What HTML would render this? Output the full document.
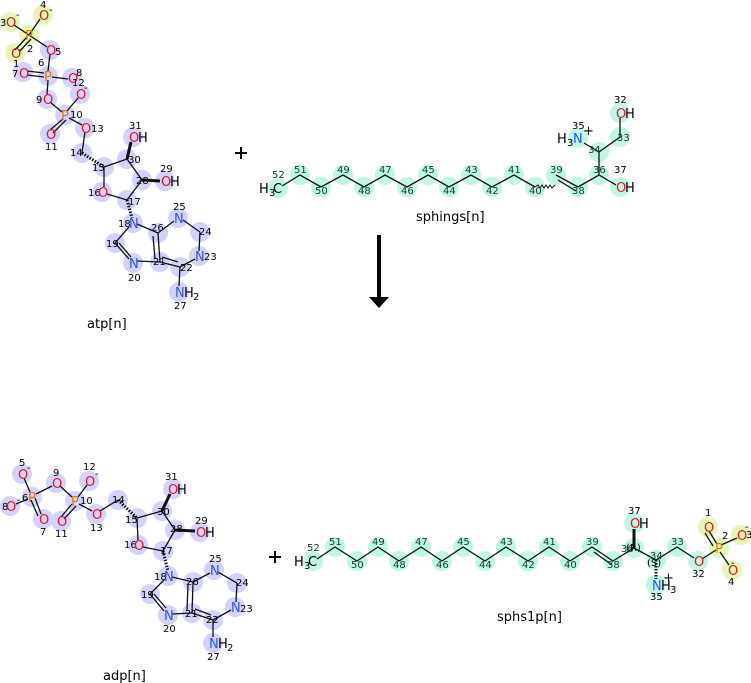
<!DOCTYPE html>
<html><head><meta charset="utf-8"><style>
html,body{margin:0;padding:0;background:#fff}
svg{display:block}
text{font-family:"DejaVu Sans","Liberation Sans",sans-serif}
circle{r:10px}
.n{font-size:10px;fill:#000}
.g{font-size:10px;fill:#0d3b2a}
.O{font-size:13px;fill:#e8131c}
.N{font-size:13px;fill:#3050f8}
.P{font-size:13px;fill:#e07800}
.K{font-size:13px;fill:#000}
.lab{font-size:13px;fill:#000}
line,polyline{stroke:#111;stroke-width:1.3;fill:none}
.bl circle{fill:#d2d2fb}
.mt circle{fill:#bff7e4}
.yl circle{fill:#e3f7b8}
</style></head><body>
<svg width="751" height="683" viewBox="0 0 751 683" xmlns="http://www.w3.org/2000/svg">
<g class="yl"><circle cx="29" cy="35" r="9"/><circle cx="10" cy="22" r="9"/><circle cx="43" cy="15" r="9"/><circle cx="15" cy="53" r="9"/></g>
<g class="bl">
<circle cx="50" cy="50" r="9"/><circle cx="48" cy="76" r="9"/><circle cx="23" cy="72" r="9"/><circle cx="72" cy="78" r="9"/>
<circle cx="47" cy="99" r="9"/><circle cx="65" cy="115" r="9"/><circle cx="80" cy="94" r="9"/><circle cx="50" cy="134" r="9"/>
<circle cx="85" cy="128" r="9"/><circle cx="82" cy="153" r="9"/><circle cx="104" cy="167" r="9"/><circle cx="127" cy="159" r="9"/>
<circle cx="133" cy="137" r="9"/><circle cx="142" cy="180" r="9"/><circle cx="165" cy="181" r="9"/><circle cx="127" cy="200" r="9"/>
<circle cx="102" cy="192" r="9"/><circle cx="133" cy="223" r="9"/><circle cx="115" cy="243" r="9"/><circle cx="133" cy="263" r="9"/>
<circle cx="160" cy="262" r="9"/><circle cx="158" cy="233" r="9"/><circle cx="178" cy="218" r="9"/><circle cx="200" cy="232" r="9"/>
<circle cx="199" cy="256" r="9"/><circle cx="180" cy="267" r="9"/><circle cx="179" cy="292" r="9"/>
</g>
<line x1="29" y1="35" x2="14" y2="25"/><line x1="29" y1="35" x2="40" y2="19"/>
<line x1="27" y1="37" x2="15" y2="50"/><line x1="31" y1="39" x2="19" y2="52"/>
<line x1="29" y1="35" x2="47" y2="47"/>
<line x1="50" y1="54" x2="48" y2="71"/><line x1="27" y1="71" x2="44" y2="73"/><line x1="27" y1="75" x2="44" y2="77"/>
<line x1="52" y1="77" x2="68" y2="79"/><line x1="48" y1="80" x2="47" y2="95"/>
<line x1="50" y1="102" x2="62" y2="112"/><line x1="67" y1="111" x2="78" y2="98"/>
<line x1="63" y1="119" x2="50" y2="130"/><line x1="66" y1="120" x2="53" y2="133"/>
<line x1="69" y1="118" x2="82" y2="125"/><line x1="85" y1="132" x2="82" y2="153"/>
<polyline points="104,167 127,159 142,180 127,200"/>
<line x1="104" y1="167" x2="104" y2="187"/><line x1="107" y1="194" x2="127" y2="200"/>
<line x1="127" y1="159" x2="131" y2="142" style="stroke-width:3"/>
<line x1="142" y1="180" x2="160" y2="181" style="stroke-width:3"/>
<line x1="82" y1="153" x2="104" y2="167" style="stroke-dasharray:1.5 1.5;stroke-width:3"/>
<line x1="127" y1="200" x2="132" y2="218" style="stroke-dasharray:1.5 1.5;stroke-width:3"/>
<polyline points="129,227 115,243 129,259"/><line x1="119" y1="243" x2="131" y2="257"/>
<line x1="137" y1="261" x2="160" y2="262"/><line x1="137" y1="224" x2="158" y2="233"/>
<line x1="158" y1="233" x2="160" y2="262"/><line x1="153" y1="236" x2="155" y2="259"/>
<line x1="158" y1="233" x2="174" y2="221"/><line x1="183" y1="220" x2="200" y2="232"/>
<line x1="200" y1="232" x2="199" y2="251"/><line x1="195" y1="259" x2="180" y2="267"/>
<line x1="180" y1="267" x2="160" y2="262"/><line x1="178" y1="262" x2="162" y2="257"/>
<line x1="180" y1="267" x2="179" y2="286"/>
<text class="O" x="6" y="27">O</text><text class="n" x="0" y="26">3</text><text class="n" x="16" y="18">-</text>
<text class="O" x="39" y="20">O</text><text class="n" x="40" y="8">4</text><text class="n" x="49" y="13">-</text>
<text class="P" x="25" y="40">P</text><text class="n" x="27" y="52">2</text>
<text class="O" x="11" y="58">O</text>
<text class="O" x="46" y="55">O</text><text class="n" x="55" y="55">5</text>
<text class="n" x="38" y="66">6</text><text class="P" x="44" y="81">P</text>
<text class="O" x="19" y="78">O</text><text class="n" x="12" y="77">7</text><text class="n" x="13" y="67">1</text>
<text class="O" x="68" y="83">O</text><text class="n" x="76" y="76">8</text><text class="n" x="72" y="86">12</text>
<text class="O" x="43" y="104">O</text><text class="n" x="36" y="103">9</text>
<text class="O" x="76" y="99">O</text><text class="n" x="84" y="91">-</text>
<text class="P" x="61" y="120">P</text><text class="n" x="70" y="118">10</text>
<text class="O" x="46" y="139">O</text><text class="n" x="45" y="150">11</text>
<text class="O" x="81" y="133">O</text><text class="n" x="91" y="132">13</text>
<text class="n" x="70" y="156">14</text><text class="n" x="92" y="171">15</text><text class="n" x="128" y="163">30</text>
<text class="n" x="129" y="129">31</text><text class="O" x="129" y="142">O</text><text class="K" x="138" y="142">H</text>
<text class="n" x="136" y="184">28</text><text class="n" x="160" y="172">29</text><text class="O" x="161" y="186">O</text><text class="K" x="170" y="186">H</text>
<text class="n" x="88" y="196">16</text><text class="O" x="98" y="197">O</text><text class="n" x="128" y="205">17</text>
<text class="n" x="118" y="227">18</text><text class="N" x="129" y="228">N</text>
<text class="n" x="106" y="247">19</text><text class="N" x="129" y="268">N</text><text class="n" x="128" y="281">20</text>
<text class="n" x="153" y="265">21</text><text class="n" x="151" y="231">26</text>
<text class="N" x="174" y="223">N</text><text class="n" x="173" y="210">25</text>
<text class="n" x="199" y="235">24</text><text class="N" x="195" y="261">N</text><text class="n" x="204" y="260">23</text>
<text class="n" x="180" y="271">22</text>
<text class="N" x="175" y="297">N</text><text class="K" x="184" y="297">H</text><text class="n" x="193" y="300">2</text><text class="n" x="174" y="309">27</text>
<text class="lab" x="87" y="328">atp[n]</text>

<path d="M235 153h12M241 147v12" stroke="#000" stroke-width="2"/>
<path d="M269 557h12M275 551v12" stroke="#000" stroke-width="2"/>

<g class="mt">
<circle cx="278" cy="188" r="9"/><circle cx="300" cy="175" r="9"/><circle cx="321" cy="187" r="9"/><circle cx="343" cy="175" r="9"/>
<circle cx="364" cy="187" r="9"/><circle cx="385" cy="175" r="9"/><circle cx="407" cy="187" r="9"/><circle cx="428" cy="175" r="9"/>
<circle cx="449" cy="187" r="9"/><circle cx="471" cy="175" r="9"/><circle cx="492" cy="187" r="9"/><circle cx="514" cy="175" r="9"/>
<circle cx="535" cy="187" r="9"/><circle cx="556" cy="175" r="9"/><circle cx="578" cy="187" r="9"/><circle cx="599" cy="175" r="9"/>
<circle cx="620" cy="187" r="9"/><circle cx="599" cy="152" r="9"/><circle cx="578" cy="138" r="9"/><circle cx="620" cy="137" r="9"/><circle cx="620" cy="113" r="9"/>
</g>
<polyline points="282,186 300,175 321,187 343,175 364,187 385,175 407,187 428,175 449,187 471,175 492,187 514,175 535,187"/>
<path d="M535 187 l3 -2 l2 3 l2 -3 l2 3 l2 -3 l2 3 l2 -3 l2 3 l3 -3" stroke="#111" stroke-width="1" fill="none"/>
<line x1="556" y1="175" x2="578" y2="187"/><line x1="558" y1="180" x2="576" y2="191"/>
<polyline points="578,187 599,175 616,185"/><line x1="599" y1="175" x2="599" y2="152"/>
<line x1="599" y1="152" x2="584" y2="143"/><polyline points="599,152 620,137 620,118"/>
<text class="g" x="272" y="178">52</text><text class="K" x="259" y="193">H</text><text class="n" x="269" y="196">3</text><text class="K" x="273" y="193">C</text>
<text class="g" x="294" y="173">51</text><text class="g" x="315" y="194">50</text><text class="g" x="337" y="173">49</text><text class="g" x="358" y="194">48</text>
<text class="g" x="379" y="173">47</text><text class="g" x="401" y="194">46</text><text class="g" x="422" y="173">45</text><text class="g" x="443" y="194">44</text>
<text class="g" x="465" y="173">43</text><text class="g" x="486" y="194">42</text><text class="g" x="508" y="173">41</text><text class="g" x="529" y="194">40</text>
<text class="g" x="550" y="173">39</text><text class="g" x="572" y="194">38</text><text class="g" x="593" y="173">36</text>
<text class="n" x="614" y="173">37</text><text class="O" x="616" y="192">O</text><text class="K" x="625" y="192">H</text>
<text class="g" x="588" y="153">34</text><text class="n" x="572" y="129">35</text>
<text class="K" x="557" y="143">H</text><text class="n" x="567" y="146">3</text><text class="N" x="573" y="143">N</text><text class="K" x="583" y="135">+</text>
<text class="g" x="617" y="141">33</text><text class="n" x="614" y="103">32</text><text class="O" x="616" y="118">O</text><text class="K" x="625" y="118">H</text>
<text class="lab" x="416" y="221">sphings[n]</text>

<line x1="379" y1="235" x2="379" y2="300" style="stroke:#000;stroke-width:4"/>
<polygon points="369,297 389,297 379,308" fill="#000"/>

<g class="bl">
<circle cx="22" cy="474" r="9"/><circle cx="32" cy="497" r="9"/><circle cx="10" cy="506" r="9"/><circle cx="43" cy="519" r="9"/>
<circle cx="56" cy="483" r="9"/><circle cx="75" cy="501" r="9"/><circle cx="89" cy="481" r="9"/><circle cx="61" cy="521" r="9"/>
<circle cx="96" cy="514" r="9"/><circle cx="118" cy="500" r="9"/><circle cx="137" cy="518" r="9"/><circle cx="162" cy="511" r="9"/>
<circle cx="173" cy="489" r="9"/><circle cx="175" cy="530" r="9"/><circle cx="200" cy="532" r="9"/><circle cx="163" cy="551" r="9"/>
<circle cx="138" cy="545" r="9"/><circle cx="168" cy="576" r="9"/><circle cx="150" cy="594" r="9"/><circle cx="168" cy="615" r="9"/>
<circle cx="192" cy="613" r="9"/><circle cx="193" cy="582" r="9"/><circle cx="214" cy="570" r="9"/><circle cx="237" cy="583" r="9"/>
<circle cx="235" cy="607" r="9"/><circle cx="213" cy="620" r="9"/><circle cx="213" cy="643" r="9"/>
</g>
<line x1="24" y1="478" x2="30" y2="492"/><line x1="16" y1="504" x2="28" y2="499"/>
<line x1="35" y1="498" x2="41" y2="514"/><line x1="31" y1="500" x2="38" y2="516"/>
<line x1="36" y1="494" x2="52" y2="486"/><line x1="60" y1="486" x2="72" y2="497"/>
<line x1="78" y1="497" x2="87" y2="485"/><line x1="72" y1="504" x2="61" y2="517"/><line x1="76" y1="506" x2="64" y2="519"/>
<line x1="79" y1="504" x2="92" y2="511"/><line x1="100" y1="511" x2="118" y2="500"/>
<line x1="118" y1="500" x2="137" y2="518" style="stroke-dasharray:1.5 1.5;stroke-width:3"/>
<polyline points="137,518 162,511 175,530 163,551"/>
<line x1="137" y1="518" x2="138" y2="540"/><line x1="143" y1="547" x2="163" y2="551"/>
<line x1="162" y1="511" x2="170" y2="494" style="stroke-width:3"/>
<line x1="175" y1="530" x2="195" y2="531" style="stroke-width:3"/>
<line x1="163" y1="551" x2="168" y2="571" style="stroke-dasharray:1.5 1.5;stroke-width:3"/>
<polyline points="164,580 150,594 164,611"/><line x1="154" y1="594" x2="166" y2="608"/>
<line x1="172" y1="614" x2="192" y2="613"/><line x1="172" y1="577" x2="193" y2="582"/>
<line x1="193" y1="582" x2="192" y2="613"/><line x1="188" y1="585" x2="187" y2="610"/>
<line x1="193" y1="582" x2="210" y2="573"/><line x1="218" y1="572" x2="237" y2="583"/>
<line x1="237" y1="583" x2="236" y2="602"/><line x1="231" y1="610" x2="213" y2="620"/>
<line x1="213" y1="620" x2="192" y2="613"/><line x1="211" y1="615" x2="195" y2="609"/>
<line x1="213" y1="620" x2="213" y2="637"/>
<text class="n" x="19" y="466">5</text><text class="O" x="18" y="479">O</text><text class="n" x="27" y="471">-</text>
<text class="n" x="22" y="501">6</text><text class="P" x="28" y="502">P</text>
<text class="n" x="2" y="510">8</text><text class="O" x="6" y="511">O</text><text class="n" x="17" y="503">-</text>
<text class="O" x="39" y="524">O</text><text class="n" x="40" y="535">7</text>
<text class="n" x="53" y="476">9</text><text class="O" x="52" y="488">O</text>
<text class="P" x="71" y="506">P</text><text class="n" x="80" y="504">10</text>
<text class="n" x="83" y="470">12</text><text class="O" x="85" y="486">O</text><text class="n" x="95" y="477">-</text>
<text class="O" x="57" y="526">O</text><text class="n" x="55" y="537">11</text>
<text class="O" x="92" y="519">O</text><text class="n" x="90" y="531">13</text>
<text class="n" x="112" y="503">14</text><text class="n" x="125" y="523">15</text><text class="n" x="157" y="515">30</text>
<text class="n" x="165" y="480">31</text><text class="O" x="168" y="494">O</text><text class="K" x="177" y="494">H</text>
<text class="n" x="170" y="532">28</text><text class="n" x="195" y="524">29</text><text class="O" x="196" y="537">O</text><text class="K" x="205" y="537">H</text>
<text class="n" x="124" y="548">16</text><text class="O" x="134" y="550">O</text><text class="n" x="160" y="554">17</text>
<text class="n" x="154" y="580">18</text><text class="N" x="164" y="581">N</text>
<text class="n" x="141" y="598">19</text><text class="N" x="164" y="620">N</text><text class="n" x="163" y="632">20</text>
<text class="n" x="185" y="617">21</text><text class="n" x="186" y="585">26</text>
<text class="N" x="210" y="575">N</text><text class="n" x="209" y="562">25</text>
<text class="n" x="236" y="586">24</text><text class="N" x="231" y="612">N</text><text class="n" x="240" y="612">23</text>
<text class="n" x="206" y="623">22</text>
<text class="N" x="209" y="648">N</text><text class="K" x="218" y="648">H</text><text class="n" x="227" y="651">2</text><text class="n" x="207" y="660">27</text>
<text class="lab" x="103" y="680">adp[n]</text>

<g class="mt">
<circle cx="313" cy="561" r="9"/><circle cx="335" cy="547" r="9"/><circle cx="357" cy="561" r="9"/><circle cx="378" cy="547" r="9"/>
<circle cx="399" cy="561" r="9"/><circle cx="421" cy="547" r="9"/><circle cx="442" cy="561" r="9"/><circle cx="463" cy="547" r="9"/>
<circle cx="485" cy="561" r="9"/><circle cx="506" cy="547" r="9"/><circle cx="528" cy="561" r="9"/><circle cx="549" cy="547" r="9"/>
<circle cx="570" cy="561" r="9"/><circle cx="592" cy="547" r="9"/><circle cx="613" cy="561" r="9"/><circle cx="634" cy="548" r="9"/>
<circle cx="634" cy="523" r="9"/><circle cx="656" cy="560" r="9"/><circle cx="656" cy="585" r="9"/><circle cx="677" cy="547" r="9"/><circle cx="698" cy="561" r="9"/>
</g>
<g class="yl"><circle cx="719" cy="548" r="9"/><circle cx="708" cy="527" r="9"/><circle cx="741" cy="535" r="9"/><circle cx="732" cy="570" r="9"/></g>
<polyline points="317,559 335,547 357,561 378,547 399,561 421,547 442,561 463,547 485,561 506,547 528,561 549,547 570,561 592,547 613,561 634,548 656,560 677,547 694,558"/>
<line x1="594" y1="552" x2="612" y2="565"/>
<line x1="634" y1="548" x2="634" y2="529" style="stroke-width:3"/>
<line x1="656" y1="560" x2="656" y2="579" style="stroke-dasharray:1.5 1.5;stroke-width:3"/>
<line x1="702" y1="559" x2="716" y2="550"/><line x1="721" y1="545" x2="737" y2="538"/><line x1="720" y1="552" x2="729" y2="565"/>
<line x1="717" y1="544" x2="709" y2="531"/><line x1="713" y1="546" x2="705" y2="533"/>
<text class="g" x="307" y="551">52</text><text class="K" x="294" y="566">H</text><text class="n" x="304" y="569">3</text><text class="K" x="308" y="566">C</text>
<text class="g" x="329" y="545">51</text><text class="g" x="351" y="568">50</text><text class="g" x="372" y="545">49</text><text class="g" x="393" y="568">48</text>
<text class="g" x="415" y="545">47</text><text class="g" x="436" y="568">46</text><text class="g" x="457" y="545">45</text><text class="g" x="479" y="568">44</text>
<text class="g" x="500" y="545">43</text><text class="g" x="522" y="568">42</text><text class="g" x="543" y="545">41</text><text class="g" x="564" y="568">40</text>
<text class="g" x="586" y="545">39</text><text class="g" x="607" y="568">38</text><text class="g" x="621" y="552">36</text><text class="n" x="626" y="551">(R)</text>
<text class="n" x="628" y="514">37</text><text class="O" x="630" y="528">O</text><text class="K" x="639" y="528">H</text>
<text class="g" x="650" y="559">34</text><text class="n" x="647" y="566">(S)</text>
<text class="N" x="652" y="590">N</text><text class="K" x="661" y="590">H</text><text class="n" x="670" y="593">3</text><text class="K" x="663" y="582">+</text><text class="n" x="650" y="600">35</text>
<text class="g" x="671" y="545">33</text><text class="O" x="694" y="566">O</text><text class="n" x="692" y="577">32</text>
<text class="P" x="715" y="553">P</text><text class="n" x="722" y="539">2</text>
<text class="n" x="705" y="516">1</text><text class="O" x="704" y="532">O</text>
<text class="O" x="737" y="540">O</text><text class="n" x="746" y="538">3</text><text class="n" x="745" y="530">-</text>
<text class="O" x="728" y="575">O</text><text class="n" x="731" y="566">-</text><text class="n" x="728" y="585">4</text>
<text class="lab" x="497" y="621">sphs1p[n]</text>
</svg>
</body></html>
